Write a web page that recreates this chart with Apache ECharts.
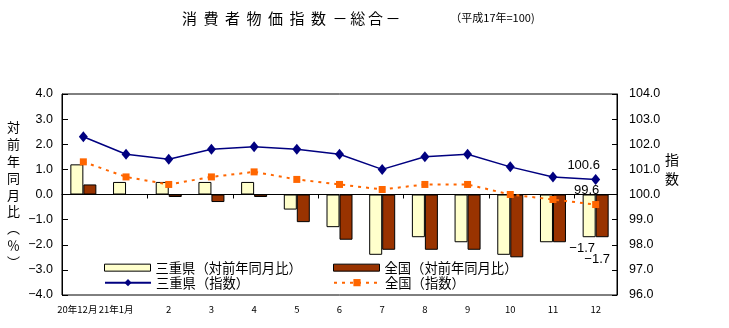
<!DOCTYPE html>
<html>
<head>
<meta charset="utf-8">
<script src="https://cdn.jsdelivr.net/npm/echarts@6/dist/echarts.min.js"></script>
<style>
  html, body { margin: 0; padding: 0; background: #fff; }
  #chart { width: 729px; height: 328px; }
</style>
</head>
<body>
<div id="chart"></div>
<script>
// 月（平成20年12月〜21年12月）
const categories = ['20年12月', '21年1月', '2', '3', '4', '5', '6', '7', '8', '9', '10', '11', '12'];
// 対前年同月比（％）
const mieYoY      = [1.2, 0.5, 0.5, 0.5, 0.5, -0.6, -1.3, -2.4, -1.7, -1.9, -2.4, -1.9, -1.7];
const zenkokuYoY  = [0.4, 0.0, -0.1, -0.3, -0.1, -1.1, -1.8, -2.2, -2.2, -2.2, -2.5, -1.9, -1.7];
// 指数（平成17年=100）
const mieIndex     = [102.3, 101.6, 101.4, 101.8, 101.9, 101.8, 101.6, 101.0, 101.5, 101.6, 101.1, 100.7, 100.6];
const zenkokuIndex = [101.3, 100.7, 100.4, 100.7, 100.9, 100.6, 100.4, 100.2, 100.4, 100.4, 100.0, 99.8, 99.6];
// 目盛
const yoyTicks   = { min: -4, max: 4, interval: 1 };
const indexTicks = { min: 96, max: 104, interval: 1 };

const seriesNames = ['三重県（対前年同月比）', '全国（対前年同月比）', '三重県（指数）', '全国（指数）'];

const NUM_FONT = '"Liberation Sans", Arial, "Noto Sans CJK JP", sans-serif';
const JP_FONT = '"Noto Sans CJK JP", "Liberation Sans", sans-serif';

const fmt = v => (v < 0 ? '\u2212' : '') + Math.abs(v).toFixed(1);
const last = categories.length - 1;

function withLastLabel(values, label) {
  return values.map((v, i) => i === last ? { value: v, label: Object.assign({ show: true }, label) } : v);
}

const chart = echarts.init(document.getElementById('chart'), null, { renderer: 'canvas' });

const titleChars = '消費者物価指数'.split('');
const subChars = '－総合－'.split('');
const titleText = titleChars.map(c => '{a|' + c + '}').join('') +
                  subChars.map(c => '{b|' + c + '}').join('') +
                  '{gap|}{s|（平成17年=100)}';

const legendBase = {
  orient: 'horizontal',
  padding: 0,
  itemWidth: 46,
  itemHeight: 7,
  itemGap: 4,
  textStyle: { fontFamily: JP_FONT, fontSize: 13.3, color: '#000' },
  selectedMode: false
};

const mieBarStyle = { color: '#FFFFCC', borderColor: '#000', borderWidth: 1 };
const zenkokuBarStyle = { color: '#993300', borderColor: '#000', borderWidth: 1 };

const option = {
  backgroundColor: '#fff',
  animation: false,
  title: {
    text: titleText,
    left: 182,
    top: 8,
    padding: 0,
    textStyle: {
      fontWeight: 'normal',
      rich: {
        a: { fontFamily: JP_FONT, fontSize: 15, fontWeight: 'normal', width: 21.5, lineHeight: 20, color: '#000', verticalAlign: 'middle' },
        b: { fontFamily: JP_FONT, fontSize: 15, fontWeight: 'normal', width: 17.7, lineHeight: 20, color: '#000', verticalAlign: 'middle' },
        gap: { width: 47, lineHeight: 20 },
        s: { fontFamily: JP_FONT, fontSize: 11, fontWeight: 'normal', lineHeight: 20, color: '#000', verticalAlign: 'middle' }
      }
    }
  },
  legend: [
    Object.assign({}, legendBase, {
      data: [{ name: seriesNames[0], icon: 'rect', itemStyle: { color: '#FFFFCC', borderColor: '#000', borderWidth: 1 } }],
      left: 104, top: 261
    }),
    Object.assign({}, legendBase, {
      data: [{ name: seriesNames[1], icon: 'rect', itemStyle: { color: '#993300', borderColor: '#000', borderWidth: 1 } }],
      left: 333, top: 261
    }),
    Object.assign({}, legendBase, { data: [seriesNames[2]], left: 104, top: 276, itemHeight: 9 }),
    Object.assign({}, legendBase, { data: [seriesNames[3]], left: 333, top: 276, itemHeight: 9 })
  ],
  grid: {
    left: 62, right: 112, top: 94, bottom: 33,
    show: true, borderColor: '#000', borderWidth: 1, backgroundColor: 'transparent'
  },
  xAxis: [
    {
      type: 'category',
      data: categories,
      position: 'bottom',
      axisLine: { show: false, onZero: false },
      axisTick: { show: false },
      axisLabel: {
        interval: 0,
        margin: 10,
        fontFamily: JP_FONT,
        fontSize: 9.5,
        color: '#000',
        formatter: (v, i) => i === 0 ? '{l0|' + v + '}' : (i === 1 ? '{l1|' + v + '}' : v),
        rich: {
          l0: { fontFamily: JP_FONT, fontSize: 9.5, color: '#000', padding: [0, 12, 0, 0] },
          l1: { fontFamily: JP_FONT, fontSize: 9.5, color: '#000', padding: [0, 20, 0, 0] }
        }
      },
      splitLine: { show: false }
    },
    {
      type: 'category',
      data: categories,
      position: 'top',
      axisLine: { show: true, onZero: true, onZeroAxisIndex: 0, lineStyle: { color: '#000', width: 1 } },
      axisTick: { show: true, inside: true, length: 4, lineStyle: { color: '#000' } },
      axisLabel: { show: false },
      splitLine: { show: false }
    }
  ],
  yAxis: [
    {
      type: 'value',
      position: 'left',
      min: yoyTicks.min, max: yoyTicks.max, interval: yoyTicks.interval,
      axisLine: { show: true, lineStyle: { color: '#000' } },
      axisTick: { show: true, inside: true, length: 6, lineStyle: { color: '#000' } },
      axisLabel: { fontFamily: NUM_FONT, fontSize: 12.5, color: '#000', margin: 9, formatter: fmt },
      splitLine: { show: false }
    },
    {
      type: 'value',
      position: 'right',
      min: indexTicks.min, max: indexTicks.max, interval: indexTicks.interval,
      axisLine: { show: true, lineStyle: { color: '#000' } },
      axisTick: { show: true, inside: true, length: 5, lineStyle: { color: '#000' } },
      axisLabel: { fontFamily: NUM_FONT, fontSize: 12.5, color: '#000', margin: 12, formatter: fmt },
      splitLine: { show: false }
    }
  ],
  graphic: [
    {
      type: 'text',
      left: 7, top: 119,
      style: {
        text: '対\n前\n年\n同\n月\n比\n︵\n％\n︶',
        font: '13px ' + JP_FONT,
        lineHeight: 16.8,
        fill: '#000',
        align: 'center'
      }
    },
    {
      type: 'text',
      left: 665, top: 150,
      style: {
        text: '指\n数',
        font: '14px ' + JP_FONT,
        lineHeight: 19,
        fill: '#000'
      }
    }
  ],
  series: [
    {
      name: seriesNames[0],
      type: 'bar',
      xAxisIndex: 0, yAxisIndex: 0,
      barWidth: 13,
      barGap: '0%',
      itemStyle: mieBarStyle,
      label: { fontFamily: NUM_FONT, fontSize: 13, color: '#000', formatter: p => fmt(p.value) },
      data: withLastLabel(mieYoY, { position: 'bottom', offset: [-7, 0] }),
      z: 2
    },
    {
      name: seriesNames[1],
      type: 'bar',
      xAxisIndex: 0, yAxisIndex: 0,
      barWidth: 13,
      barGap: '0%',
      itemStyle: zenkokuBarStyle,
      label: { fontFamily: NUM_FONT, fontSize: 13, color: '#000', formatter: p => fmt(p.value) },
      data: withLastLabel(zenkokuYoY, { position: 'bottom', offset: [-5, 11] }),
      z: 2
    },
    {
      name: seriesNames[2],
      type: 'line',
      xAxisIndex: 0, yAxisIndex: 1,
      symbol: 'diamond',
      symbolSize: [9, 11],
      itemStyle: { color: '#000080' },
      lineStyle: { color: '#000080', width: 1.5 },
      label: { fontFamily: NUM_FONT, fontSize: 13, color: '#000', formatter: p => p.value.toFixed(1) },
      data: withLastLabel(mieIndex, { position: 'top', offset: [-12, 3] }),
      z: 4
    },
    {
      name: seriesNames[3],
      type: 'line',
      xAxisIndex: 0, yAxisIndex: 1,
      symbol: 'rect',
      symbolSize: 7,
      itemStyle: { color: '#FF6600' },
      lineStyle: { color: '#FF6600', width: 2, type: [3, 5] },
      label: { fontFamily: NUM_FONT, fontSize: 13, color: '#000', formatter: p => p.value.toFixed(1) },
      data: withLastLabel(zenkokuIndex, { position: 'top', offset: [-9, 1] }),
      z: 3
    }
  ]
};

chart.setOption(option);
</script>
</body>
</html>
